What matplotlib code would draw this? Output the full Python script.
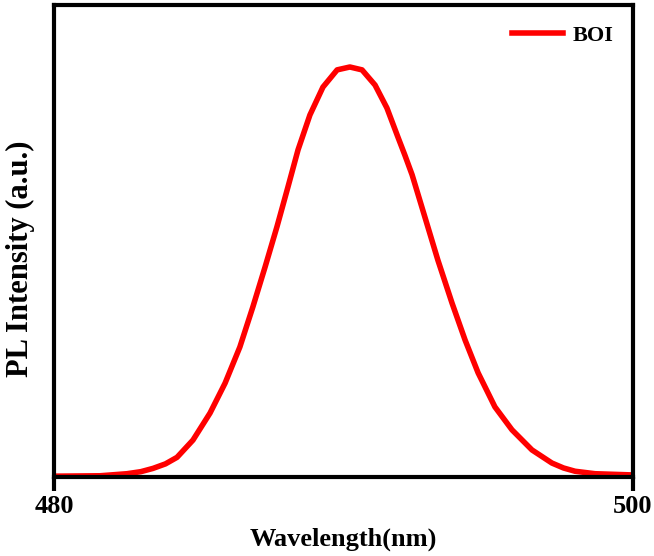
import numpy as np
import matplotlib
matplotlib.use('Agg')
import matplotlib.pyplot as plt

# values
wavelength = [480.00, 481.59, 482.52, 483.00, 483.42, 483.85, 484.25, 484.80,
              485.39, 485.91, 486.42, 486.87, 487.29, 487.70, 488.08, 488.43,
              488.84, 489.29, 489.78, 490.22, 490.64, 491.09, 491.50, 491.88,
              492.12, 492.37, 492.82, 493.26, 493.75, 494.20, 494.65, 495.23,
              495.82, 496.51, 497.20, 497.60, 498.00, 498.69, 500.00]
intensity = [0.002, 0.003, 0.008, 0.013, 0.021, 0.032, 0.048, 0.090,
             0.156, 0.229, 0.317, 0.415, 0.512, 0.610, 0.707, 0.798,
             0.883, 0.951, 0.993, 1.000, 0.993, 0.956, 0.900, 0.829,
             0.785, 0.737, 0.632, 0.529, 0.424, 0.334, 0.254, 0.171,
             0.115, 0.066, 0.034, 0.022, 0.014, 0.008, 0.005]
xticks = [480, 500]
series_name = 'BOI'

plt.rcParams['font.family'] = ['Liberation Serif', 'DejaVu Serif']
plt.rcParams['font.weight'] = 'bold'

fig = plt.figure(figsize=(6.54, 5.56), dpi=100)
ax = fig.add_axes([54 / 654, 1 - 477 / 556, 579 / 654, 472 / 556])

ax.plot(wavelength, intensity, color='red', lw=4, label=series_name,
        solid_joinstyle='round')
ax.set_xlim(480, 500)
ax.set_ylim(0, 472 / 410)

ax.set_xticks(xticks)
ax.set_xticklabels([str(t) for t in xticks], fontsize=19, fontweight='bold')
ax.set_yticks([])
ax.tick_params(axis='x', direction='out', length=10, width=3, pad=3)
for sp in ax.spines.values():
    sp.set_linewidth(3)

ax.set_xlabel('Wavelength(nm)', fontsize=19, fontweight='bold', labelpad=7)
ax.set_ylabel('PL Intensity (a.u.)', fontsize=22, fontweight='bold')
ax.yaxis.set_label_coords(-0.033, 0.462)

leg = ax.legend(loc='upper right', frameon=False, fontsize=16,
                handlelength=2.3, handletextpad=0.4, borderaxespad=0.5)

fig.savefig('out.png', dpi=100)
